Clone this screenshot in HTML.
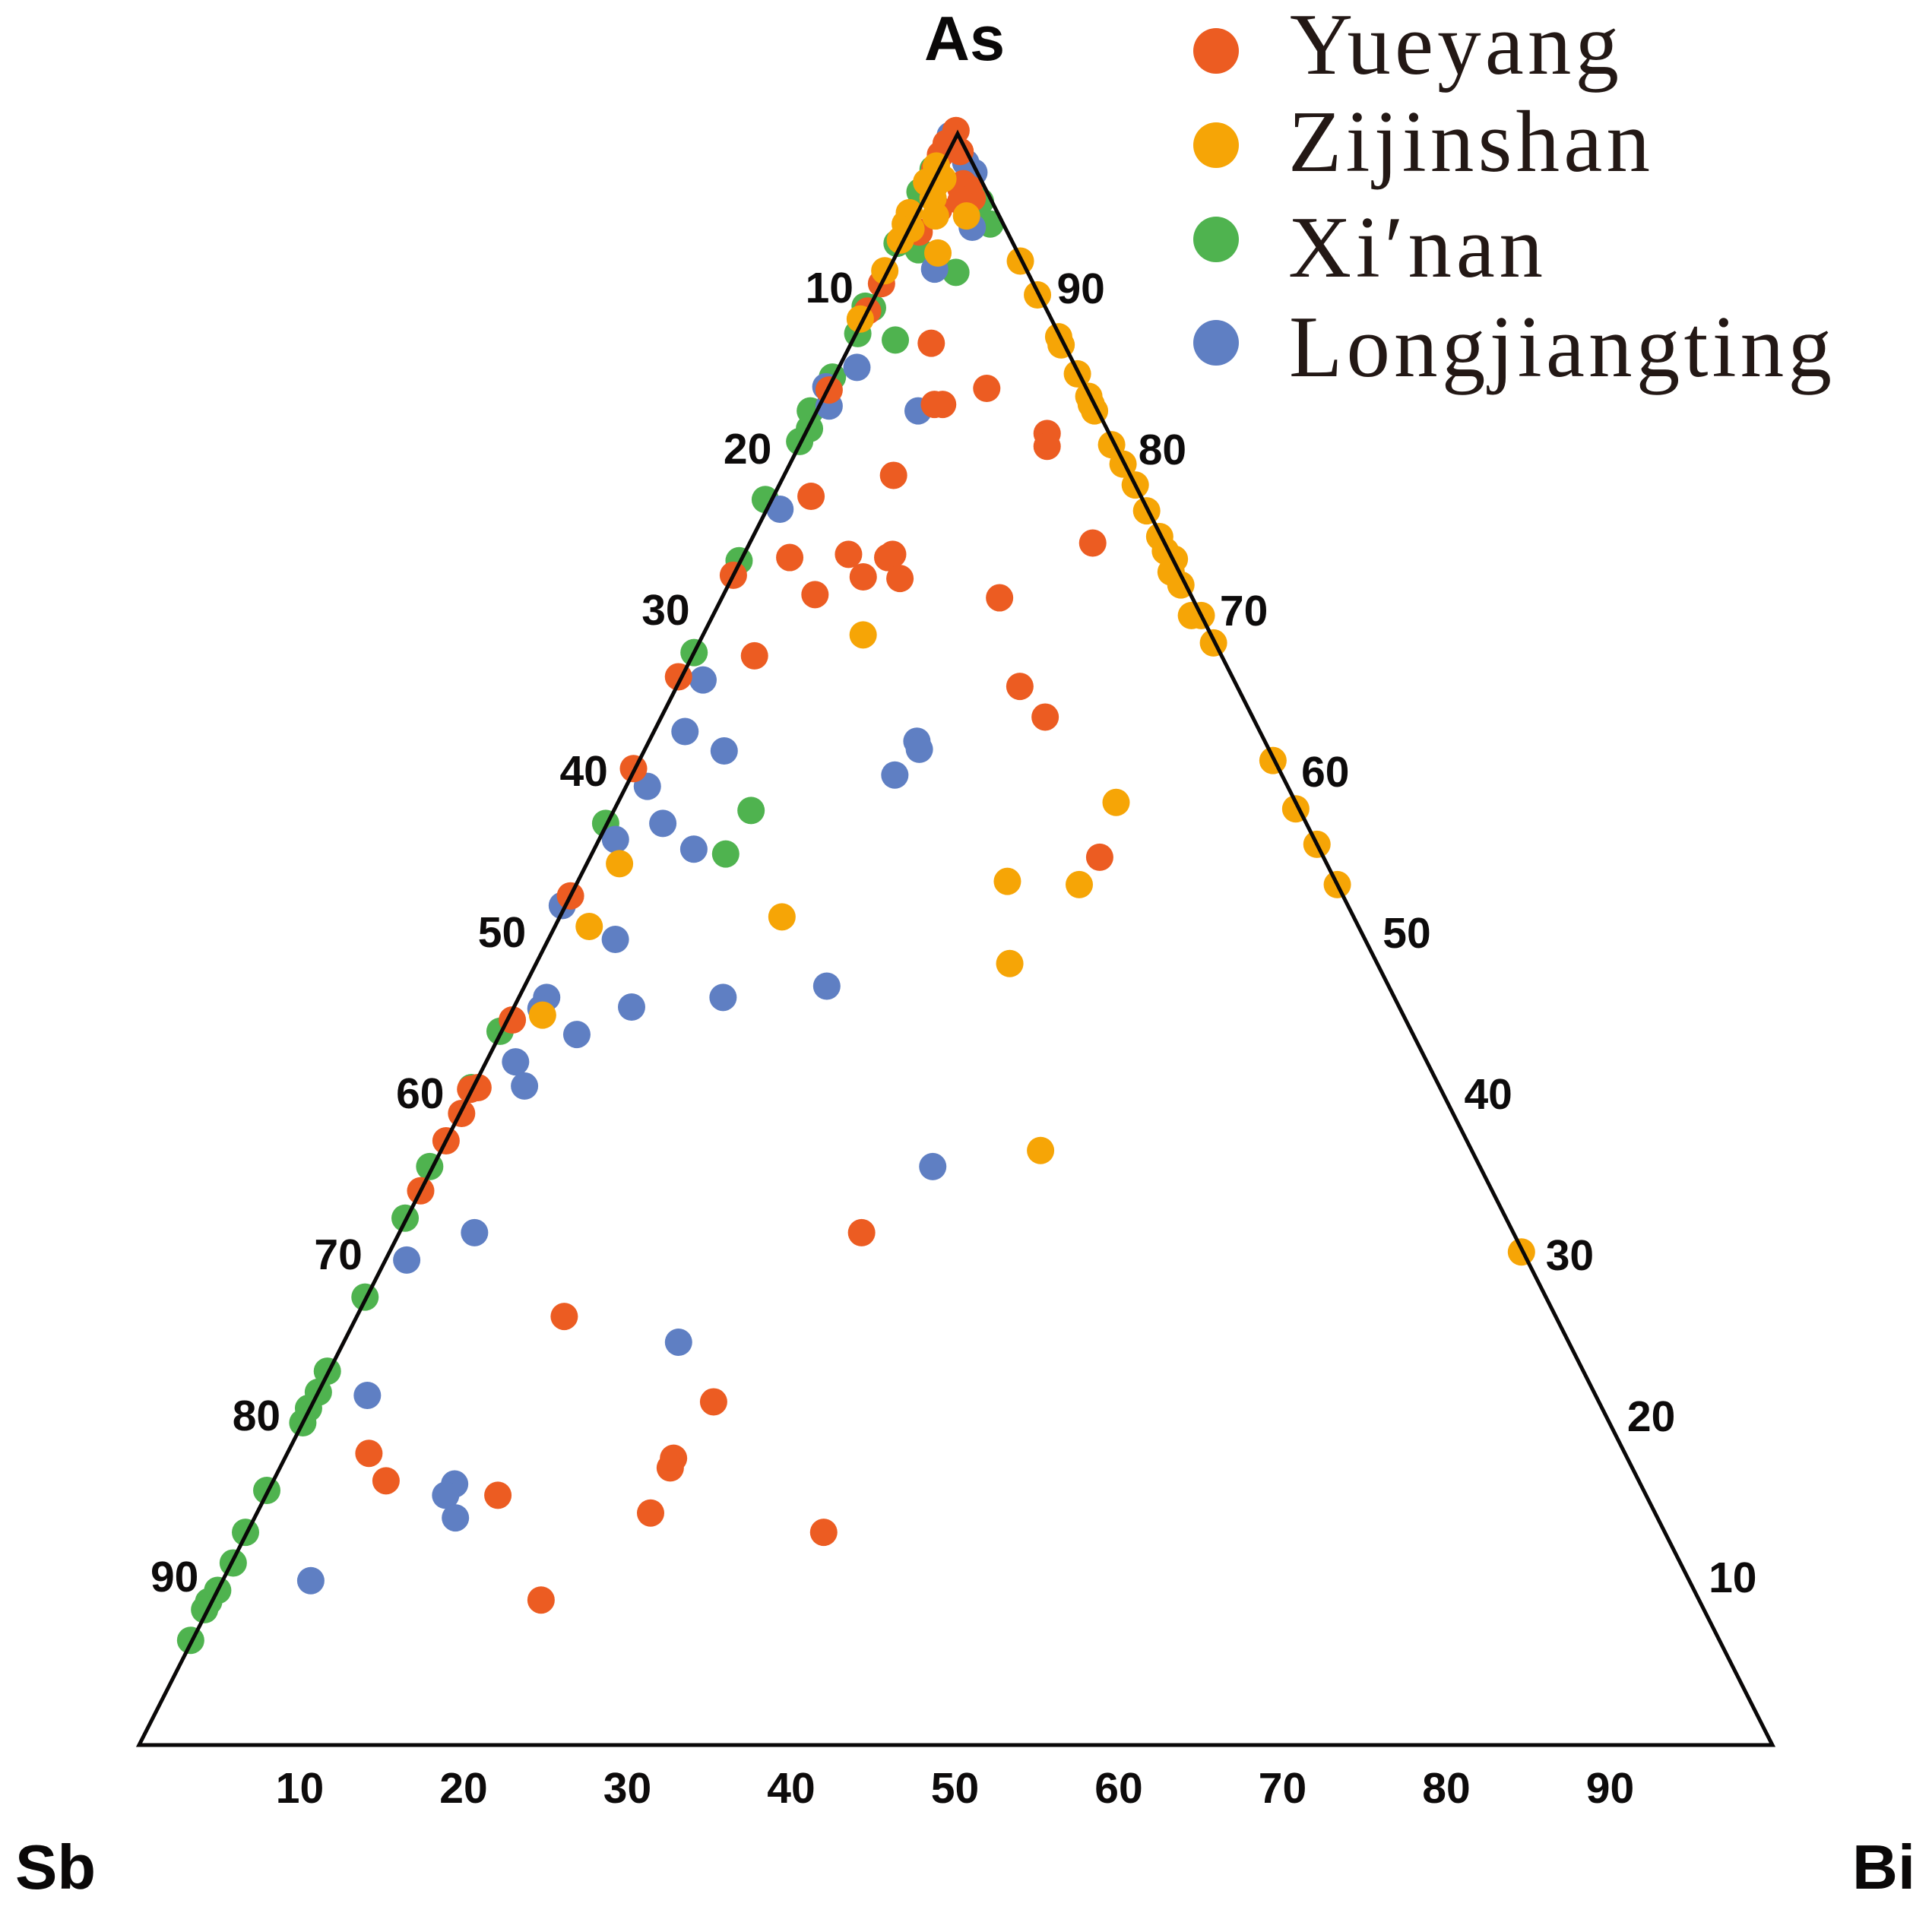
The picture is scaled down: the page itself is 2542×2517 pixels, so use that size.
<!DOCTYPE html>
<html lang="en">
<head>
<meta charset="utf-8">
<title>As–Sb–Bi ternary diagram</title>
<style>
html,body{margin:0;padding:0;background:#fff;width:2542px;height:2517px;overflow:hidden}
svg{display:block}
.tick{font-family:"Liberation Sans",Arial,sans-serif;font-weight:700;font-size:57px;fill:#0d0b0b;text-anchor:middle}
.apex{font-family:"Liberation Sans",Arial,sans-serif;font-weight:700;font-size:83px;fill:#0a0808}
.leg{font-family:"Liberation Serif","Times New Roman",serif;font-size:115px;fill:#231815}
</style>
</head>
<body>
<svg id="chart" xmlns="http://www.w3.org/2000/svg" width="2542" height="2517" viewBox="0 0 2542 2517">
  <rect x="0" y="0" width="2542" height="2517" fill="#fff"/>
  <g id="points"></g>
  <polygon id="frame" fill="none" stroke="#0a0808" stroke-width="5" stroke-linejoin="miter"/>
  <g id="ticks"></g>
  <text class="apex" x="1216" y="79">As</text>
  <text class="apex" x="20" y="2485">Sb</text>
  <text class="apex" x="2437" y="2485">Bi</text>
  <g>
    <g>
      <circle cx="1600" cy="67" r="30" fill="#ec5c22"/>
      <text class="leg" x="1697" y="97" textLength="433" lengthAdjust="spacing">Yueyang</text>
    </g>
    <g>
      <circle cx="1600" cy="191" r="30" fill="#f6a506"/>
      <text class="leg" x="1695" y="225" textLength="476" lengthAdjust="spacing">Zijinshan</text>
    </g>
    <g>
      <circle cx="1600" cy="315" r="30" fill="#4fb34f"/>
      <text class="leg" x="1695" y="364" textLength="335" lengthAdjust="spacing">Xi′nan</text>
    </g>
    <g>
      <circle cx="1600" cy="451" r="30" fill="#5f7fc3"/>
      <text class="leg" x="1696" y="495" textLength="714" lengthAdjust="spacing">Longjiangting</text>
    </g>
  </g>
</svg>
<script>
// Tick labels (percent)
var sbTicks = [10,20,30,40,50,60,70,80,90];
var asTicks = [90,80,70,60,50,40,30,20,10];
var biTicks = [10,20,30,40,50,60,70,80,90];

// Series values: As % and Bi % (Sb is the remainder)
var xinanAs = [91.4,94.4,92.8,96.4,95.8,97.8,93.2,89.2,89.3,87.6,87.2,84.9,82.8,81.7,80.9,77.3,73.5,67.8,58.0,55.3,57.2,44.3,40.8,35.9,32.7,27.8,23.2,21.9,20.9,20.0,15.8,13.2,11.3,9.6,8.9,8.4,6.5];
var xinanBi = [4.2,4.8,1.2,-0.5,3.5,-0.4,-0.3,0.2,-0.3,0.1,2.6,-0.1,-0.4,0.1,-0.1,-0.4,-0.1,0.0,8.4,8.2,-0.1,-0.1,-0.1,-0.2,-0.1,-0.1,-0.1,0.0,-0.1,0.0,-0.1,-0.1,0.1,0.0,-0.2,-0.2,-0.1];

var longjiangtingAs = [99.9,98.2,97.6,94.2,91.6,85.5,84.3,83.1,82.8,76.7,66.1,62.9,61.7,60.2,62.3,61.8,59.5,57.2,55.6,56.2,52.1,50.0,46.4,47.1,46.4,45.7,45.8,44.1,42.4,40.9,31.8,30.1,21.7,25.0,16.2,15.5,14.1,10.2,35.9];
var longjiangtingBi = [-0.4,1.4,2.2,3.8,2.8,1.1,-0.2,0.6,6.2,0.8,1.4,1.9,4.9,16.1,16.4,16.8,1.3,3.4,6.1,1.0,-0.2,4.1,12.5,18.5,1.7,1.7,7.2,4.7,1.8,3.1,4.6,1.3,3.1,20.5,11.2,11.0,12.3,5.4,30.6];

var yueyangAs = [100.2,99.4,98.7,97.8,98.9,96.9,96.6,96.6,96.0,95.8,95.3,93.9,90.7,89.0,84.1,87.0,84.2,83.2,83.2,81.4,80.6,78.8,77.5,73.7,73.9,73.9,73.7,72.5,72.4,71.4,74.6,71.2,65.7,63.8,72.6,67.6,66.3,60.6,52.7,45.0,40.8,40.7,39.2,37.5,34.4,26.6,21.3,18.1,16.4,15.5,9.0,17.8,17.2,14.4,13.2,31.8,55.1];
var yueyangBi = [-0.2,-0.4,-0.4,-0.3,0.7,1.9,2.4,1.9,2.9,2.3,1.2,0.7,0.0,0.0,0.1,4.9,9.7,7.5,7.0,14.8,15.2,6.7,2.3,2.9,6.4,9.1,8.9,8.0,10.3,5.6,21.0,17.0,21.0,23.5,0.0,3.8,-0.2,-0.1,0.0,0.3,0.3,-0.1,0.1,0.0,0.0,12.7,24.5,5.0,6.9,14.2,20.1,23.8,23.9,24.1,35.3,28.3,31.2];

var zijinshanAs = [98.0,97.5,96.7,96.0,94.9,94.9,95.1,94.4,93.4,94.1,92.6,91.5,88.5,92.1,90.0,87.4,86.9,85.1,83.7,83.2,82.8,80.7,79.5,78.2,76.6,75.0,74.1,73.6,72.8,72.0,70.1,70.1,68.4,61.1,58.1,55.9,53.4,30.6,68.9,54.7,50.8,51.4,45.3,58.5,53.6,53.4,48.5,36.9,97.0,97.2];
var zijinshanBi = [-0.3,0.0,0.2,0.5,3.1,1.2,-0.5,-0.4,-0.2,0.1,2.5,-0.2,-0.2,7.8,9.9,12.5,12.9,14.8,16.2,16.6,17.0,19.1,20.4,21.8,23.3,24.9,25.7,26.5,26.7,27.7,29.3,29.9,31.5,38.8,41.7,44.1,46.6,69.3,9.8,2.0,2.1,13.6,2.0,30.5,26.3,30.8,29.0,36.7,-0.4,0.5];

var SVGNS = 'http://www.w3.org/2000/svg';
var originX = 183, baseY = 2296, spanX = 2149, spanY = 2120, apexShift = 1077;

// Axis functions: composition (percent) to page position
function xPos(as, bi) { return originX + bi / 100 * spanX + as / 100 * apexShift; }
function yPos(as) { return baseY - as / 100 * spanY; }

document.getElementById('frame').setAttribute('points',
  xPos(0, 0) + ',' + yPos(0) + ' ' + xPos(0, 100) + ',' + yPos(0) + ' ' + xPos(100, 0) + ',' + yPos(100));

function drawSeries(name, color, asValues, biValues) {
  var parent = document.getElementById('points');
  var group = document.createElementNS(SVGNS, 'g');
  
  
  for (var i = 0; i < asValues.length; i++) {
    var dot = document.createElementNS(SVGNS, 'circle');
    dot.setAttribute('cx', xPos(asValues[i], biValues[i]));
    dot.setAttribute('cy', yPos(asValues[i]));
    dot.setAttribute('r', 18);
    dot.setAttribute('fill', color);
    
    
    group.appendChild(dot);
  }
  parent.appendChild(group);
}
drawSeries('xinan', '#4fb34f', xinanAs, xinanBi);
drawSeries('longjiangting', '#5f7fc3', longjiangtingAs, longjiangtingBi);
drawSeries('yueyang', '#ec5c22', yueyangAs, yueyangBi);
drawSeries('zijinshan', '#f6a506', zijinshanAs, zijinshanBi);

function drawTick(axisName, value, x, y) {
  var t = document.createElementNS(SVGNS, 'text');
  t.setAttribute('class', 'tick');
  t.setAttribute('x', x);
  t.setAttribute('y', y);
  
  
  t.textContent = value;
  document.getElementById('ticks').appendChild(t);
}
sbTicks.forEach(function (v) {
  var as = 100 - v;
  drawTick('sb-axis', v, xPos(as, 0) - 61, yPos(as) + 10);
});
asTicks.forEach(function (v) {
  var bi = 100 - v;
  drawTick('as-axis', v, xPos(v, bi) + 55, yPos(v) + 11);
});
biTicks.forEach(function (v) {
  drawTick('bi-axis', v, xPos(0, v) + (v - 50) * 0.06 - 1, yPos(0) + 76);
});
</script>
</body>
</html>
